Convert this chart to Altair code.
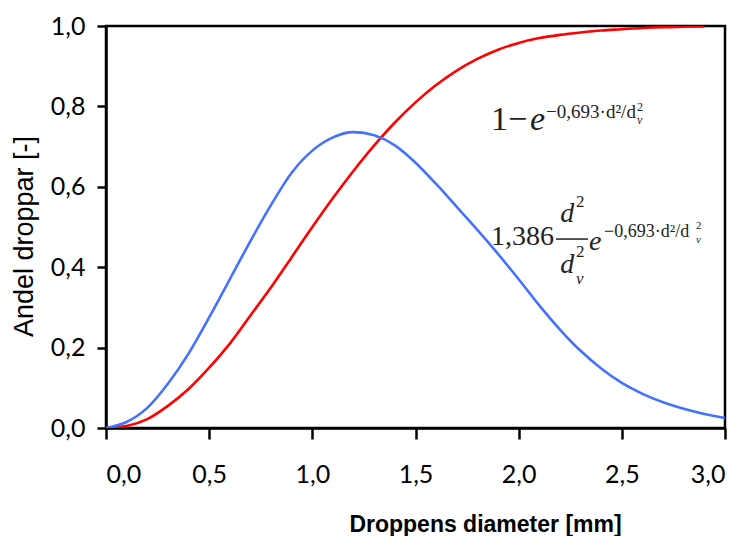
import altair as alt
import pandas as pd

# Droplet diameter [mm]
d_blue = [0.0, 0.1, 0.2, 0.3, 0.4, 0.5, 0.6, 0.7, 0.8, 0.9, 1.0, 1.1, 1.2, 1.3, 1.4, 1.5,
          1.6, 1.7, 1.8, 1.9, 2.0, 2.1, 2.2, 2.3, 2.4, 2.5, 2.6, 2.7, 2.8, 2.9, 3.0]
blue = [0.0, 0.015, 0.05, 0.11, 0.185, 0.275, 0.37, 0.465, 0.555, 0.635, 0.69, 0.723, 0.736,
        0.728, 0.703, 0.66, 0.607, 0.55, 0.493, 0.433, 0.37, 0.305, 0.245, 0.192, 0.148,
        0.112, 0.085, 0.064, 0.048, 0.035, 0.025]

d_red = [0.0, 0.1, 0.2, 0.3, 0.4, 0.5, 0.6, 0.7, 0.8, 0.9, 1.0, 1.1, 1.2, 1.3, 1.4, 1.5,
         1.6, 1.7, 1.8, 1.9, 2.0, 2.1, 2.2, 2.3, 2.4, 2.5, 2.6, 2.7, 2.8, 2.9]
red = [0.0, 0.005, 0.022, 0.055, 0.097, 0.15, 0.21, 0.28, 0.35, 0.425, 0.5, 0.572, 0.64,
       0.703, 0.76, 0.81, 0.853, 0.889, 0.918, 0.941, 0.958, 0.97, 0.978, 0.984, 0.989,
       0.992, 0.995, 0.997, 0.998, 0.999]

x_ticks = [0.0, 0.5, 1.0, 1.5, 2.0, 2.5, 3.0]
y_ticks = [0.0, 0.2, 0.4, 0.6, 0.8, 1.0]

# Formula annotations (positions in data units)
ann_text = ["1−", "e", "−0,693·d²/d", "2", "v",
            "1,386", "d", "2", "d", "2", "v", "e", "−0,693·d²/d", "2", "v"]
ann_x = [1.866, 2.055, 2.133, 2.574, 2.574,
         1.866, 2.201, 2.278, 2.201, 2.278, 2.278, 2.341, 2.414, 2.860, 2.860]
ann_y = [0.741, 0.741, 0.771, 0.789, 0.756,
         0.455, 0.512, 0.550, 0.386, 0.425, 0.358, 0.443, 0.475, 0.494, 0.460]
ann_size = [34, 34, 19, 12, 12,
            28, 28, 17, 28, 17, 17, 28, 18, 11, 11]
ann_italic = [False, True, False, False, True,
              False, True, False, True, False, True, True, False, False, True]

# fraction bar
bar_x = [2.181]
bar_x2 = [2.336]
bar_y = [0.470]

lines = pd.concat([
    pd.DataFrame({"d": d_red, "v": red, "s": "cdf"}),
    pd.DataFrame({"d": d_blue, "v": blue, "s": "pdf"}),
])
ann = pd.DataFrame({"x": ann_x, "y": ann_y, "t": ann_text, "size": ann_size, "it": ann_italic})
bar = pd.DataFrame({"x": bar_x, "x2": bar_x2, "y": bar_y})

label_font = "Lato, Liberation Sans, sans-serif"
lbl = "replace(format(datum.value, '.1f'), '.', ',')"

xs = alt.Scale(domain=[0, 3], nice=False, zero=False)
ys = alt.Scale(domain=[0, 1], nice=False)

base_lines = alt.Chart(lines).mark_line(strokeWidth=2.6, clip=True, interpolate="monotone").encode(
    x=alt.X("d:Q", scale=xs, axis=alt.Axis(
        values=x_ticks, labelExpr=lbl, title="Droppens diameter [mm]", grid=False,
        tickSize=11, labelPadding=43, labelBaseline="alphabetic",
        titleX=379, titleY=103, titleBaseline="alphabetic", titleAlign="center",
        titleFont="Liberation Sans", titleFontSize=23, titleFontWeight="bold")),
    y=alt.Y("v:Q", scale=ys, axis=alt.Axis(
        values=y_ticks, labelExpr=lbl, title="Andel droppar [-]", grid=False,
        tickSize=9, labelPadding=12,
        titleX=-74, titleY=210, titleBaseline="alphabetic", titleAlign="center",
        titleFont="Liberation Sans", titleFontSize=27, titleFontWeight="normal")),
    color=alt.Color("s:N", scale=alt.Scale(domain=["cdf", "pdf"], range=["#ff0000", "#4472ff"]),
                    legend=None),
    order=alt.Order("d:Q"),
)

txt_reg = alt.Chart(ann).transform_filter("!datum.it").mark_text(
    font="Liberation Serif", align="left", baseline="alphabetic", color="#222222"
).encode(x="x:Q", y="y:Q", text="t:N", size=alt.Size("size:Q", scale=None, legend=None))

txt_it = alt.Chart(ann).transform_filter("datum.it").mark_text(
    font="Liberation Serif", fontStyle="italic", align="left", baseline="alphabetic", color="#222222"
).encode(x="x:Q", y="y:Q", text="t:N", size=alt.Size("size:Q", scale=None, legend=None))

frac = alt.Chart(bar).mark_rule(color="#222222", strokeWidth=1.5).encode(
    x="x:Q", x2="x2:Q", y="y:Q")

chart = alt.layer(base_lines, txt_reg, txt_it, frac).properties(
    width=619, height=402,
    autosize=alt.AutoSizeParams(type="none"),
    padding={"left": 98, "top": 18, "right": 10, "bottom": 110},
).configure_view(
    stroke="#000000", strokeWidth=2.5
).configure_axis(
    domainColor="#000000", domainWidth=2.5, tickColor="#000000", tickWidth=2.5,
    labelFont=label_font, labelFontSize=25, labelColor="#000000", titleColor="#000000",
)

chart.save("out.html", embed_options={"renderer": "svg", "actions": False})
